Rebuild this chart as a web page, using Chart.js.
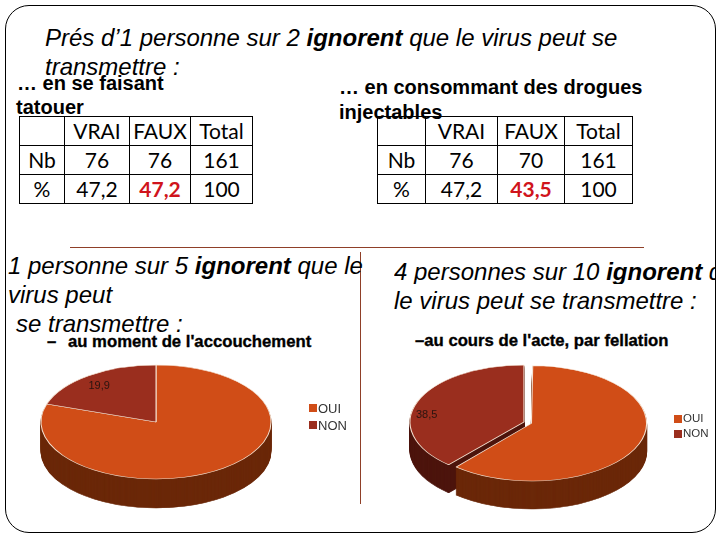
<!DOCTYPE html>
<html lang="fr">
<head>
<meta charset="utf-8">
<title>Pies VIH</title>
<script src="https://cdn.jsdelivr.net/npm/chart.js@4"></script>
<style>
  html, body { margin: 0; padding: 0; background: #fff; }
  #page { position: relative; width: 720px; height: 540px; overflow: hidden; font-family: "Liberation Sans", Arial, sans-serif; color: #000; }
  #frame { position: absolute; left: 5px; top: 5px; width: 709px; height: 526px; border: 1px solid #000; border-radius: 24px; }
  .t { position: absolute; white-space: pre; line-height: 1; }
  .big { font-style: italic; font-size: 24px; }
  .sub { font-weight: bold; font-size: 20px; }
  .small { font-weight: bold; font-size: 16.7px; -webkit-text-stroke: .35px #000; }
  .rule { position: absolute; background: #8f3f28; }
  table { position: absolute; border-collapse: collapse; font-family: Lato, sans-serif; font-size: 21px; table-layout: fixed; }
  td { border: 1px solid #000; text-align: center; padding: 0; height: 28px; line-height: 28px; }
  td.hot { color: #d0141c; font-weight: bold; }
  canvas { position: absolute; }
  .legend { position: absolute; color: #333; line-height: 1; }
  .legend div { position: absolute; white-space: pre; }
  .legend i { position: absolute; width: 8px; height: 8px; }
</style>
</head>
<body>
<div id="page">
  <div id="frame"></div>
  <div class="rule" style="left:70px;top:247px;width:574px;height:1px"></div>
  <div class="rule" style="left:360px;top:252px;width:1px;height:252px"></div>

  <div class="t big" style="left:45px;top:26px">Prés d’1 personne sur 2 <b>ignorent</b> que le virus peut se</div>
  <div class="t big" style="left:45px;top:55px">transmettre :</div>
  <div class="t sub" style="left:17px;top:73px">… en se faisant</div>
  <div class="t sub" style="left:16px;top:97px">tatouer</div>
  <div class="t sub" style="left:339px;top:77px">… en consommant des drogues</div>
  <div class="t sub" style="left:339px;top:102px">injectables</div>

  <div class="t big" style="left:8px;top:254px">1 personne sur 5 <b>ignorent</b> que le</div>
  <div class="t big" style="left:8px;top:283px">virus peut</div>
  <div class="t big" style="left:16px;top:312px">se transmettre :</div>
  <div class="t small" style="left:47px;top:334px">–</div>
  <div class="t small" style="left:68px;top:334px">au moment de l'accouchement</div>

  <div class="t big" style="left:394px;top:260px;width:322px;overflow:hidden">4 personnes sur 10 <b>ignorent</b> que</div>
  <div class="t big" style="left:394px;top:289px">le virus peut se transmettre :</div>
  <div class="t small" style="left:415px;top:333px">–au cours de l'acte, par fellation</div>

  <table id="table1" style="left:19px;top:116px"></table>
  <table id="table2" style="left:377px;top:116px"></table>

  <canvas id="pieLeft" width="312" height="230" style="left:0;top:307px"></canvas>
  <canvas id="pieRight" width="326" height="230" style="left:361px;top:307px"></canvas>
  <div id="legendLeft" class="legend"></div>
  <div id="legendRight" class="legend"></div>
</div>

<script>
const categories = ['OUI', 'NON'];
const accouchement = [80.1, 19.9];
const fellation = [61.5, 38.5];
const colors = ['#d04d17', '#9a2e1e'];
const sideColors = ['#6b2809', '#4d150d'];

const tableHead = ['', 'VRAI', 'FAUX', 'Total'];
const rowNames = ['Nb', '%'];
const tatouerNb = ['76', '76', '161'];
const tatouerPct = ['47,2', '47,2', '100'];
const droguesNb = ['76', '70', '161'];
const droguesPct = ['47,2', '43,5', '100'];

function buildTable(id, nb, pct, widths) {
  const cols = widths.map(w => `<col style="width:${w}px">`).join('');
  const rows = [
    tableHead.map(h => `<td>${h}</td>`).join(''),
    `<td>${rowNames[0]}</td>` + nb.map(v => `<td>${v}</td>`).join(''),
    `<td>${rowNames[1]}</td>` + pct.map((v, i) => `<td class="${i === 1 ? 'hot' : ''}">${v}</td>`).join('')
  ];
  document.getElementById(id).innerHTML = `<colgroup>${cols}</colgroup>` + rows.map(r => `<tr>${r}</tr>`).join('');
}
buildTable('table1', tatouerNb, tatouerPct, [45, 65, 61, 62]);
buildTable('table2', droguesNb, droguesPct, [48, 72, 67, 68]);

// the box touches the text in the original, Chart.js keeps a gap, so the legend is html
function buildLegend(id, x, tops, size) {
  document.getElementById(id).innerHTML = categories.map((c, i) => `
    <i style="left:${x}px;top:${tops[i] - 4}px;background:${colors[i]}"></i>
    <div style="left:${x + 9}px;top:${tops[i] - size / 2}px;font-size:${size}px">${c}</div>
  `).join('');
}
buildLegend('legendLeft', 309, [408, 425], 13);
buildLegend('legendRight', 674, [419, 434], 11.5);

// squashes the round pie into an ellipse and extrudes it downwards
const pie3d = {
  id: 'pie3d',
  afterDatasetsUpdate(chart, args, opts) {
    // an offset arc also grows by its offset, keep only a little of that
    chart.getDatasetMeta(0).data.forEach(arc => {
      const off = (arc.options.offset || 0) / 4;
      arc.outerRadius -= off * 0.85;
    });
  },
  beforeDatasetsDraw(chart, args, opts) {
    const ctx = chart.ctx;
    const arcs = chart.getDatasetMeta(0).data;
    const cx = arcs[1].x, cy = arcs[1].y;
    const sx = opts.rx / arcs[1].outerRadius;
    const sy = opts.ry / arcs[1].outerRadius;
    ctx.save();
    ctx.translate(cx, cy);
    ctx.scale(sx, sy);
    ctx.translate(-cx, -cy);
    for (let d = opts.depth; d > 0; d--) {
      ctx.save();
      ctx.translate(0, d / sy);
      [1, 0].forEach(i => {
        const arc = arcs[i];
        const o = arc.options;
        arc.options = Object.assign({}, o, { backgroundColor: sideColors[i], borderColor: sideColors[i] });
        arc.draw(ctx);
        arc.options = o;
      });
      ctx.restore();
    }
  },
  afterDatasetsDraw(chart, args, opts) {
    const ctx = chart.ctx;
    ctx.restore();
    const arc = chart.getDatasetMeta(0).data[1];
    const mid = (arc.startAngle + arc.endAngle) / 2;
    const value = chart.data.datasets[0].data[1];
    ctx.save();
    ctx.font = '11px "Liberation Sans", Arial, sans-serif';
    ctx.fillStyle = '#2a1410';
    ctx.textAlign = 'center';
    ctx.textBaseline = 'middle';
    ctx.fillText(String(value).replace('.', ','),
      arc.x + Math.cos(mid) * opts.rx * 0.8 + opts.labelShift[0],
      arc.y + Math.sin(mid) * opts.ry * 0.8 + opts.labelShift[1]);
    ctx.restore();
  }
};

function makePie(id, values, offsets, opts) {
  new Chart(document.getElementById(id).getContext('2d'), {
    type: 'pie',
    data: {
      labels: categories,
      datasets: [{
        data: values,
        backgroundColor: colors,
        borderColor: '#f6e3d3',
        borderWidth: 1,
        offset: offsets,
        clip: false
      }]
    },
    options: {
      responsive: false,
      animation: false,
      plugins: {
        tooltip: { enabled: false },
        legend: { display: false },
        pie3d: opts
      }
    },
    plugins: [pie3d]
  });
}

makePie('pieLeft', accouchement, [0, 0], { rx: 115, ry: 57, depth: 29, labelShift: [-3, 1] });
makePie('pieRight', fellation, [28, 0], { rx: 114, ry: 57, depth: 28, labelShift: [-12, 9] });
</script>
</body>
</html>
